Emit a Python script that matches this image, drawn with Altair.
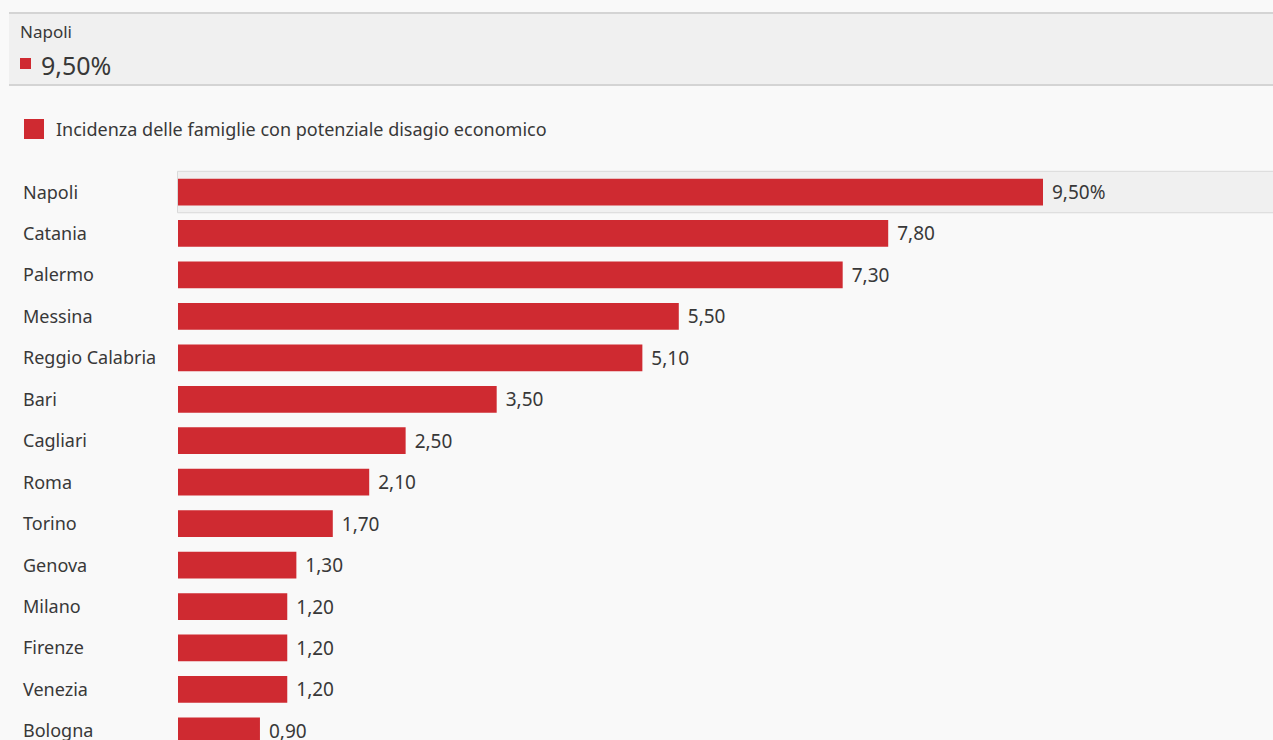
import altair as alt
import pandas as pd

cities = ["Napoli", "Catania", "Palermo", "Messina", "Reggio Calabria", "Bari",
          "Cagliari", "Roma", "Torino", "Genova", "Milano", "Firenze", "Venezia", "Bologna"]
values = [9.5, 7.8, 7.3, 5.5, 5.1, 3.5, 2.5, 2.1, 1.7, 1.3, 1.2, 1.2, 1.2, 0.9]
series_name = "Incidenza delle famiglie con potenziale disagio economico"
selected = "Napoli"

FONT = "Noto Sans"
RED = "#cf2a31"
TXT = "#383838"


def fmt(v, pct=False):
    s = f"{v:.2f}".replace(".", ",")
    return s + "%" if pct else s


df = pd.DataFrame({
    "city": cities,
    "value": values,
    "label": [fmt(v, c == selected) for c, v in zip(cities, values)],
})
sel_val = fmt(values[cities.index(selected)], True)

xs = alt.Scale(domain=[0, 9.5], range=[178, 1043])
ys = alt.Scale(domain=cities, range=[171.3, 751.6], paddingInner=0.355, paddingOuter=0.1775)
Y = alt.Y("city:N", scale=ys, axis=None, sort=cities)

one = pd.DataFrame({"k": [0]})

header_bg = alt.Chart(one).mark_rect(color="#f0f0f0").encode(
    x=alt.value(9), x2=alt.value(1290), y=alt.value(13), y2=alt.value(85))
header_top = alt.Chart(one).mark_rule(color="#d4d4d4", strokeWidth=2).encode(
    x=alt.value(9), x2=alt.value(1290), y=alt.value(13))
header_bot = alt.Chart(one).mark_rule(color="#d4d4d4", strokeWidth=2).encode(
    x=alt.value(9), x2=alt.value(1290), y=alt.value(85))
header_name = alt.Chart(pd.DataFrame({"t": [selected]})).mark_text(
    font=FONT, fontSize=17, color=TXT, align="left", baseline="middle").encode(
    x=alt.value(20), y=alt.value(33), text="t:N")
header_sq = alt.Chart(one).mark_rect(color=RED).encode(
    x=alt.value(20), x2=alt.value(31), y=alt.value(58), y2=alt.value(69))
header_val = alt.Chart(pd.DataFrame({"t": [sel_val]})).mark_text(
    font=FONT, fontSize=25, color=TXT, align="left", baseline="alphabetic").encode(
    x=alt.value(41), y=alt.value(75), text="t:N")

legend_sq = alt.Chart(one).mark_rect(color=RED).encode(
    x=alt.value(24), x2=alt.value(44), y=alt.value(119), y2=alt.value(139))
legend_txt = alt.Chart(pd.DataFrame({"t": [series_name]})).mark_text(
    font=FONT, fontSize=18, color=TXT, align="left", baseline="middle").encode(
    x=alt.value(56), y=alt.value(131), text="t:N")

highlight = alt.Chart(df).transform_filter(alt.datum.city == selected).mark_bar(
    color="#f0f0f0", stroke="#d9d9d9", strokeWidth=1,
    height=alt.RelativeBandSize(band=1.55)).encode(
    x=alt.value(177.5), x2=alt.value(1290), y=Y)

bars = alt.Chart(df).mark_bar(color=RED).encode(
    x=alt.X("value:Q", scale=xs, axis=None), y=Y)

vlabels = alt.Chart(df).mark_text(
    font=FONT, fontSize=19, color=TXT, align="left", baseline="middle", dx=9, dy=1).encode(
    x=alt.X("value:Q", scale=xs), y=Y, text="label:N")

clabels = alt.Chart(df).mark_text(
    font=FONT, fontSize=18, color=TXT, align="left", baseline="middle", dy=1.5).encode(
    x=alt.value(23), y=Y, text="city:N")

chart = alt.layer(
    header_bg, header_top, header_bot, header_name, header_sq, header_val,
    legend_sq, legend_txt, highlight, bars, vlabels, clabels
).properties(
    width=1273, height=740, padding=0, autosize=alt.AutoSizeParams(type="none"),
    background="#f9f9f9"
).configure_view(stroke=None)

chart.save("out.html", embed_options={"renderer": "svg", "actions": False})
